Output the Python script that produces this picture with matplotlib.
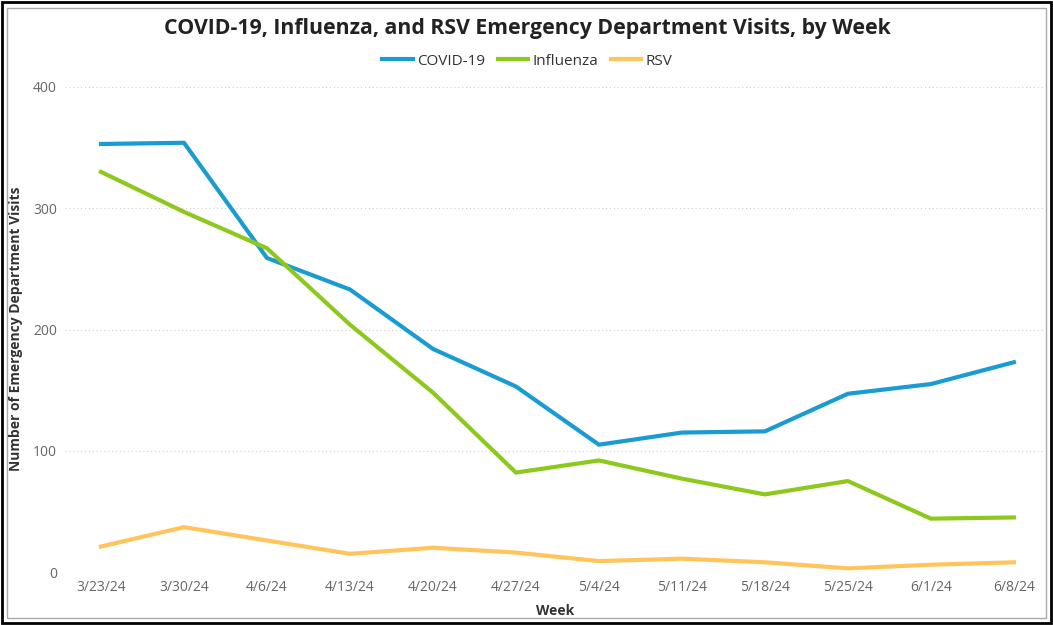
import matplotlib
matplotlib.use("Agg")
import matplotlib.pyplot as plt
from matplotlib.patches import Rectangle

plt.rcParams['font.family'] = ['Open Sans', 'DejaVu Sans']

# Data
weeks = ["3/23/24", "3/30/24", "4/6/24", "4/13/24", "4/20/24", "4/27/24",
         "5/4/24", "5/11/24", "5/18/24", "5/25/24", "6/1/24", "6/8/24"]
covid = [353, 354, 259, 233, 184, 153, 105, 115, 116, 147, 155, 173]
influenza = [330, 297, 267, 204, 148, 82, 92, 77, 64, 75, 44, 45]
rsv = [21, 37, 26, 15, 20, 16, 9, 11, 8, 3, 6, 8]

fig = plt.figure(figsize=(10.53, 6.25), dpi=100)
ax = fig.add_axes([0.062, 0.0848, 0.930, 0.776])

x = range(len(weeks))
ax.plot(x, covid, color="#1a9bd1", lw=3.0, label="COVID-19", clip_on=False)
ax.plot(x, influenza, color="#8dc81c", lw=3.0, label="Influenza", clip_on=False)
ax.plot(x, rsv, color="#ffc55c", lw=3.0, label="RSV", clip_on=False)

ax.set_xlim(-0.43, 11.37)
ax.set_ylim(0, 400)
ax.set_yticks([0, 100, 200, 300, 400])
ax.set_xticks(list(x))
ax.set_xticklabels(weeks)
ax.tick_params(axis="both", length=0, labelsize=10, labelcolor="#666666")
ax.tick_params(axis="y", pad=6)
ax.tick_params(axis="x", pad=6)
ax.grid(axis="y", color="#d0d0d0", linestyle=(0, (1, 2.5)), lw=0.8)
for s in ax.spines.values():
    s.set_visible(False)

ax.set_xlabel("Week", fontsize=10, fontweight="bold", color="#333333", labelpad=6)
fig.text(0.0148, 0.474, "Number of Emergency Department Visits", rotation=90,
         ha="center", va="center", fontsize=10, fontweight="bold", color="#333333")

fig.text(0.501, 0.955, "COVID-19, Influenza, and RSV Emergency Department Visits, by Week",
         ha="center", va="center", fontsize=15.3, fontweight="bold", color="#222222")
fig.legend(loc="center", bbox_to_anchor=(0.501, 0.902), ncol=3, frameon=False,
           fontsize=11, handlelength=2.0, handletextpad=0.3, columnspacing=0.8,
           labelcolor="#333333")

# figure border
fig.patches.append(Rectangle((0.002, 0.003), 0.996, 0.994, transform=fig.transFigure,
                             fill=False, edgecolor="black", lw=2))
fig.patches.append(Rectangle((0.007, 0.012), 0.986, 0.976, transform=fig.transFigure,
                             fill=False, edgecolor="#aaaaaa", lw=1))

fig.savefig("out.png", dpi=100)
